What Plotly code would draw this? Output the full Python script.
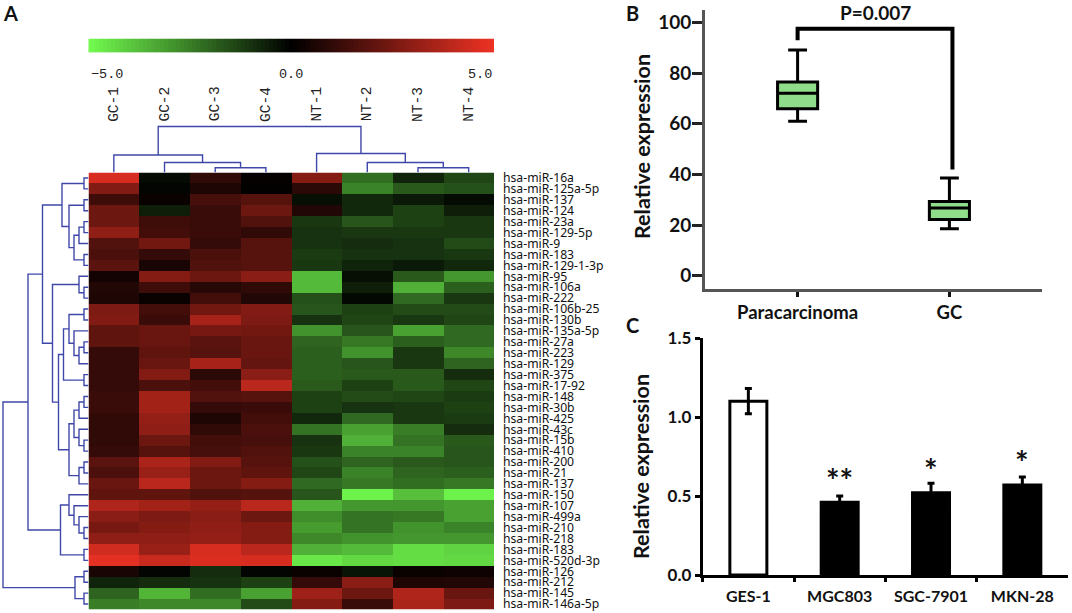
import plotly.graph_objects as go

W, H = 1072, 613

mirnas = ["hsa-miR-16a", "hsa-miR-125a-5p", "hsa-miR-137", "hsa-miR-124", "hsa-miR-23a", "hsa-miR-129-5p",
          "hsa-miR-9", "hsa-miR-183", "hsa-miR-129-1-3p", "hsa-miR-95", "hsa-miR-106a", "hsa-miR-222",
          "hsa-miR-106b-25", "hsa-miR-130b", "hsa-miR-135a-5p", "hsa-miR-27a", "hsa-miR-223", "hsa-miR-129",
          "hsa-miR-375", "hsa-miR-17-92", "hsa-miR-148", "hsa-miR-30b", "hsa-miR-425", "hsa-miR-43c",
          "hsa-miR-15b", "hsa-miR-410", "hsa-miR-200", "hsa-miR-21", "hsa-miR-137", "hsa-miR-150",
          "hsa-miR-107", "hsa-miR-499a", "hsa-miR-210", "hsa-miR-218", "hsa-miR-183", "hsa-miR-520d-3p",
          "hsa-miR-126", "hsa-miR-212", "hsa-miR-145", "hsa-miR-146a-5p"]
samples = ["GC-1", "GC-2", "GC-3", "GC-4", "NT-1", "NT-2", "NT-3", "NT-4"]
expr = [
    [4.5, -0.2, 1.0, 0.1, 2.8, -2.2, -0.7, -1.4],
    [2.7, -0.1, 0.6, 0.05, 0.9, -2.6, -1.8, -1.6],
    [1.3, 0.2, 1.5, 1.8, -0.3, -0.8, -0.5, -0.2],
    [2.3, -0.6, 1.2, 2.3, 0.7, -0.8, -1.3, -0.6],
    [2.3, 1.3, 1.2, 1.7, -1.1, -1.7, -1.3, -1.1],
    [3.0, 1.4, 1.2, 1.0, -1.0, -1.1, -1.1, -1.1],
    [1.7, 2.4, 1.1, 1.8, -1.0, -0.9, -1.0, -1.5],
    [1.6, 1.1, 1.6, 1.8, -1.2, -1.0, -1.0, -1.1],
    [1.9, 0.5, 1.7, 1.8, -1.1, -0.7, -0.5, -0.8],
    [0.4, 2.8, 2.3, 2.9, -3.7, -0.3, -1.8, -3.0],
    [0.7, 1.3, 0.8, 1.0, -3.7, -0.6, -3.5, -1.9],
    [0.6, 0.2, 1.4, 0.7, -1.6, -0.15, -2.1, -1.1],
    [2.6, 1.4, 2.4, 2.7, -1.7, -1.3, -1.5, -1.5],
    [2.7, 1.2, 3.5, 2.6, -1.0, -1.4, -1.1, -1.4],
    [2.0, 2.2, 2.5, 2.4, -2.9, -1.7, -3.2, -2.1],
    [2.0, 2.2, 1.9, 2.2, -2.0, -2.4, -1.9, -2.1],
    [1.1, 2.0, 1.8, 2.2, -1.9, -2.9, -1.1, -2.7],
    [1.1, 2.2, 3.5, 2.1, -1.9, -1.7, -1.1, -2.0],
    [1.1, 2.7, 0.9, 2.9, -1.9, -1.8, -1.8, -0.9],
    [1.1, 1.6, 1.4, 3.9, -1.8, -1.3, -1.8, -1.4],
    [1.2, 3.4, 1.7, 1.8, -1.3, -1.5, -1.4, -1.2],
    [1.2, 3.4, 1.1, 1.2, -1.3, -1.0, -1.1, -1.3],
    [1.0, 3.1, 0.6, 1.4, -0.8, -2.1, -1.1, -1.2],
    [1.0, 3.0, 1.0, 1.6, -2.3, -3.2, -2.5, -0.9],
    [1.0, 2.3, 1.4, 1.5, -1.0, -3.5, -2.3, -1.8],
    [1.1, 1.8, 1.5, 1.7, -1.1, -2.6, -2.6, -1.7],
    [1.9, 3.6, 2.7, 1.8, -1.6, -2.0, -1.8, -1.7],
    [1.6, 3.2, 2.3, 2.0, -1.4, -2.6, -2.0, -1.9],
    [2.2, 3.9, 2.3, 2.8, -2.1, -2.4, -2.2, -2.4],
    [2.0, 2.0, 1.7, 1.8, -1.7, -4.8, -3.8, -4.8],
    [3.7, 3.4, 3.1, 3.9, -3.5, -3.0, -3.0, -3.2],
    [2.9, 2.6, 2.9, 2.3, -2.8, -2.3, -2.4, -3.2],
    [2.5, 2.8, 3.0, 2.8, -3.1, -2.3, -2.9, -2.6],
    [3.0, 3.0, 3.1, 2.8, -2.7, -2.9, -3.0, -3.0],
    [4.4, 3.2, 4.5, 3.9, -3.5, -3.7, -4.4, -4.2],
    [4.8, 4.2, 4.6, 4.5, -4.6, -4.3, -4.4, -4.3],
    [0.5, -0.1, -0.9, -0.1, 0.2, -0.4, 0.2, 0.3],
    [-0.7, -0.9, -1.0, -1.3, 1.1, 2.9, 0.6, 0.7],
    [-2.0, -3.6, -2.2, -3.2, 3.3, 2.3, 3.7, 2.2],
    [-2.5, -2.7, -2.7, -1.5, 2.8, 1.2, 3.6, 2.6],
]

# dendrograms: (merge height, left child, right child), a leaf is a row/column index
col_tree = (46, (17.5, 0, (10, 1, (4.7, 2, 3))), (19, 4, (10, 5, (4.7, 6, 7))))
rows_a = (26.5, (4.5, 0, 1), (19.5, (4.5, 2, 3), (14.5, (9.5, (4.5, 4, 5), 6), (4.5, 7, 8))))
rows_b1 = (9.5, 9, (4.5, 10, 11))
rows_b2a = (25, (19.5, (4.5, 12, 13), (14.5, 14, (9.5, (4.5, 15, 16), 17))), (4.5, 18, 19))
rows_b2b = (19.5, (14.5, (9.5, (4.5, 20, 21), 22), (9.5, 23, (4.5, 24, 25))), (9.5, (4.5, 26, 27), 28))
rows_c = (28, (19.5, 29, (14.5, 30, (9.5, 31, (4.5, 32, 33)))), (4.5, 34, 35))
rows_d = (13.5, (4.5, 36, 37), (4.5, 38, 39))
row_tree = (85.5, (60.5, (46, rows_a, (36, rows_b1, (30, rows_b2a, rows_b2b))), rows_c), rows_d)

box_groups = ["Paracarcinoma", "GC"]
box_low = [61, 18.5]
box_q1 = [66, 22.2]
box_median = [72.1, 26.7]
box_q3 = [76.5, 29.3]
box_high = [89.2, 38.6]
bracket_x = [0, 0, 1.02, 1.02]
bracket_y = [93, 97.6, 97.6, 41.9]

cell_lines = ["GES-1", "MGC803", "SGC-7901", "MKN-28"]
cell_values = [1.10, 0.46, 0.52, 0.57]
cell_errors = [0.08, 0.04, 0.06, 0.05]
cell_stars = ["", "**", "*", "*"]
star_y = [0, 0.595, 0.661, 0.712]

# colour key steps, a native colorbar would push the margins
key_levels = [v / 10 for v in range(-50, 51)]
heat_scale = [[0, "#72fb4e"], [0.5, "#000000"], [1, "#ee3224"]]


def px_x(p):
    return p / W


def px_y(p):
    return 1 - p / H


def walk(node, lines_pos, lines_h):
    # returns leaf-axis position and height of a node, collects the elbow segments
    if isinstance(node, int):
        return node, 0
    h, left, right = node
    p1, h1 = walk(left, lines_pos, lines_h)
    p2, h2 = walk(right, lines_pos, lines_h)
    lines_pos += [p1, p1, p2, p2, None]
    lines_h += [h1, h, h, h2, None]
    return (p1 + p2) / 2, h


fig = go.Figure()

# panel A
fig.add_trace(go.Heatmap(
    z=expr, x=list(range(8)), y=list(range(40)), zmin=-5, zmax=5, xaxis="x", yaxis="y",
    colorscale=heat_scale, showscale=False,
))
fig.add_trace(go.Heatmap(
    z=[key_levels], x=key_levels, zmin=-5, zmax=5, xaxis="x6", yaxis="y6",
    colorscale=heat_scale, showscale=False, hoverinfo="skip",
))
pos, hgt = [], []
walk(row_tree, pos, hgt)
fig.add_trace(go.Scatter(x=hgt, y=pos, mode="lines", line=dict(color="#3f48a8", width=1.4),
                         xaxis="x2", yaxis="y2", hoverinfo="skip"))
pos, hgt = [], []
walk(col_tree, pos, hgt)
fig.add_trace(go.Scatter(x=pos, y=hgt, mode="lines", line=dict(color="#3f48a8", width=1.4),
                         xaxis="x3", yaxis="y3", hoverinfo="skip"))

# panel B
fig.add_trace(go.Box(
    x=[0, 1], q1=box_q1, median=box_median, q3=box_q3, lowerfence=box_low, upperfence=box_high,
    width=0.264, whiskerwidth=0.47, fillcolor="#8fdc8a", line=dict(color="#000000", width=3),
    boxpoints=False, xaxis="x4", yaxis="y4",
))
fig.add_trace(go.Scatter(x=bracket_x, y=bracket_y, mode="lines", line=dict(color="#000000", width=4),
                         xaxis="x4", yaxis="y4", hoverinfo="skip"))

# panel C
fig.add_trace(go.Bar(
    x=cell_lines, y=cell_values, width=0.405,
    marker=dict(color=["#ffffff", "#000000", "#000000", "#000000"], line=dict(color="#000000", width=3)),
    error_y=dict(type="data", array=cell_errors, color="#000000", thickness=3, width=3.5),
    xaxis="x5", yaxis="y5",
))

hidden = dict(visible=False, automargin=False)
fig.update_layout(
    width=W, height=H, autosize=False, showlegend=False,
    margin=dict(l=0, r=0, t=0, b=0),
    paper_bgcolor="white", plot_bgcolor="white",
    xaxis=dict(domain=[px_x(88.5), px_x(494)], range=[-0.5, 7.5], **hidden),
    yaxis=dict(domain=[px_y(609.5), px_y(172.5)], range=[39.5, -0.5], side="right", anchor="x", automargin=False,
               tickvals=list(range(40)), ticktext=mirnas, ticks="", showgrid=False, zeroline=False,
               showline=False, ticklabelstandoff=8, tickfont=dict(family="Noto Sans", size=12.2, color="#111111")),
    xaxis2=dict(domain=[0, px_x(88.5)], range=[88.5, 0], **hidden),
    yaxis2=dict(domain=[px_y(609.5), px_y(172.5)], range=[39.5, -0.5], anchor="x2", **hidden),
    xaxis3=dict(domain=[px_x(88.5), px_x(494)], range=[-0.5, 7.5], anchor="y3", **hidden),
    yaxis3=dict(domain=[px_y(172.5), px_y(122.5)], range=[0, 50], anchor="x3", **hidden),
    xaxis4=dict(domain=[px_x(705), px_x(1042)], range=[-0.61, 1.61], anchor="y4", automargin=False, tickangle=0,
                tickvals=[0, 1], ticktext=box_groups, showgrid=False, zeroline=False,
                showline=True, linecolor="#555555", linewidth=2.5,
                ticks="outside", ticklen=5, tickwidth=3, tickcolor="#111111",
                tickfont=dict(family="Lato", size=18.5, color="#111111", weight="bold")),
    yaxis4=dict(domain=[px_y(289), px_y(10)], range=[-5.3, 105], anchor="x4", automargin=False,
                tickvals=[0, 20, 40, 60, 80, 100], showgrid=False, zeroline=False,
                showline=True, linecolor="#555555", linewidth=3, ticklabelstandoff=-3,
                ticks="outside", ticklen=10, tickwidth=3, tickcolor="#222222",
                tickfont=dict(family="Lato", size=19, color="#111111", weight="bold")),
    xaxis5=dict(domain=[px_x(702.7), px_x(1068)], range=[-0.5, 3.5], anchor="y5", type="category", automargin=False,
                tickangle=0, tickson="boundaries", showgrid=False, zeroline=False,
                showline=True, linecolor="#000000", linewidth=3, ticklabelstandoff=5,
                ticks="outside", ticklen=4, tickwidth=3, tickcolor="#000000",
                tickfont=dict(family="Lato", size=16, color="#111111", weight="bold")),
    yaxis5=dict(domain=[px_y(575), px_y(338)], range=[0, 1.5], anchor="x5", automargin=False,
                tickvals=[0, 0.5, 1, 1.5], tickformat=".1f", showgrid=False, zeroline=False,
                showline=True, linecolor="#000000", linewidth=3,
                ticks="outside", ticklen=5, tickwidth=3, tickcolor="#000000",
                tickfont=dict(family="Lato", size=17, color="#111111", weight="bold")),
    xaxis6=dict(domain=[px_x(88.5), px_x(494)], range=[-5, 5], anchor="y6", **hidden),
    yaxis6=dict(domain=[px_y(52.7), px_y(38.5)], anchor="x6", **hidden),
)

annots = []


def add_text(text, x, y, font, xanchor="center", angle=0):
    annots.append(dict(text=text, x=px_x(x), y=px_y(y), xref="paper", yref="paper", xanchor=xanchor,
                       yanchor="middle", textangle=angle, showarrow=False, font=font))


panel_font = dict(family="Lato", size=20, color="#111111", weight="bold")
for label, lx, ly in [("A", 10, 13), ("B", 632, 13), ("C", 632, 325)]:
    add_text(label, lx, ly, panel_font)
# colour bar labels
mono = dict(family="Liberation Mono", size=13.5, color="#222222")
add_text("\u22125.0", 88.5, 75, mono, xanchor="left")
add_text("0.0", 291, 75, mono)
add_text("5.0", 494, 75, mono, xanchor="right")
sample_font = dict(family="Liberation Mono", size=14.5, color="#222222")
for i, s in enumerate(samples):
    annots.append(dict(text=s, x=i, xref="x", y=px_y(104), yref="paper", textangle=-90, yanchor="middle",
                       xanchor="center", showarrow=False, font=sample_font))
title_font = dict(family="Lato", size=21.5, color="#111111", weight="bold")
add_text("Relative expression", 642, 147, title_font, angle=-90)
add_text("Relative expression", 641, 467, title_font, angle=-90)
add_text("P=0.007", 875.5, 12.5, dict(family="Lato", size=19, color="#111111", weight="bold"))
for name, star, sy in zip(cell_lines, cell_stars, star_y):
    if star:
        annots.append(dict(text=star, x=name, y=sy, xref="x5", yref="y5", showarrow=False, yanchor="middle",
                           font=dict(family="Lato", size=32, color="#111111", weight="bold")))
fig.update_layout(annotations=annots)

fig.write_html("out.html", config={"displayModeBar": False}, post_script="document.body.style.margin='0'")
